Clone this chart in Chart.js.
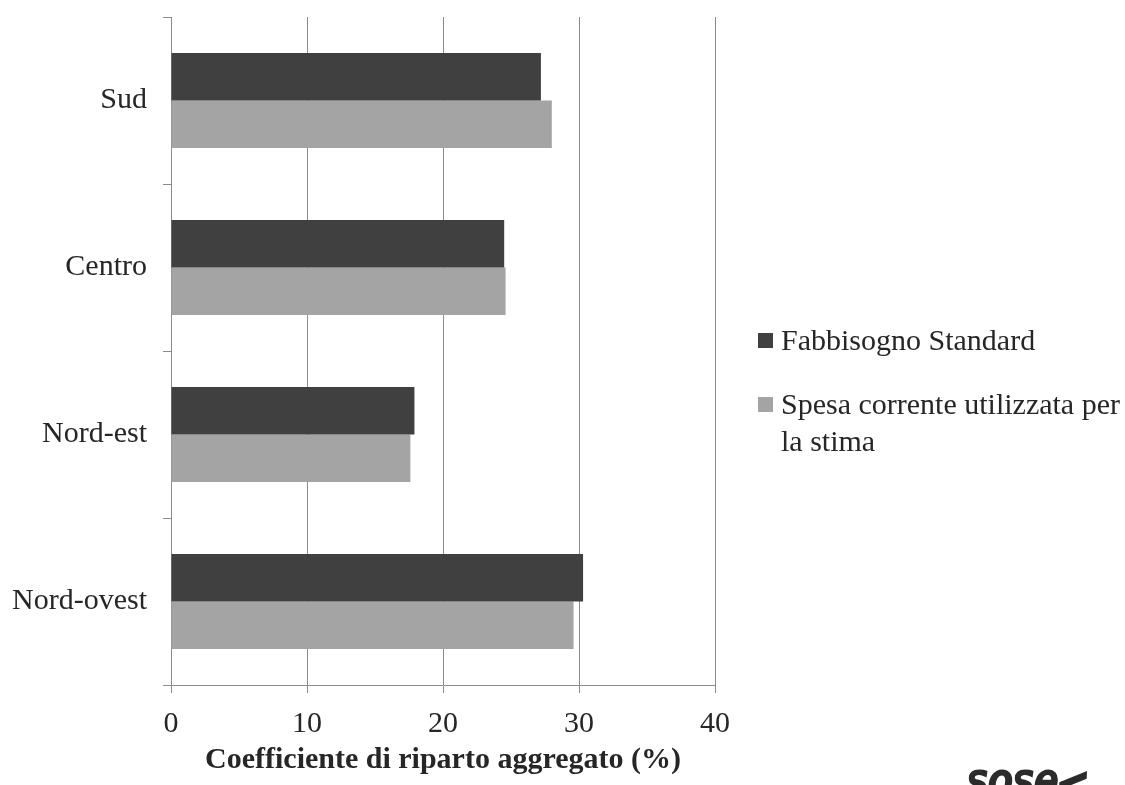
<!DOCTYPE html>
<html>
<head>
<meta charset="utf-8">
<script src="https://cdn.jsdelivr.net/npm/chart.js@4.4.1/dist/chart.umd.min.js"></script>
<style>
  html, body { margin: 0; padding: 0; background: #fff; }
  #wrap { position: relative; width: 1125px; height: 785px; overflow: hidden; }
  #legend { position: absolute; left: 758px; top: 321px; font-family: "Liberation Serif", "Times New Roman", serif; font-size: 30px; color: #262626; }
  .item { position: relative; padding-left: 23px; line-height: 37px; margin-bottom: 27px; width: 345px; }
  .box { position: absolute; left: 0; top: 12px; width: 15px; height: 15px; }
  #logo { position: absolute; left: 966px; top: 751px; font-family: "DejaVu Sans", sans-serif; font-style: italic; font-weight: bold; font-size: 48px; color: #2b2b2b; letter-spacing: -2px; transform: scaleX(0.8); transform-origin: left top; }
  #arrow { position: absolute; left: 1061px; top: 776px; width: 24px; height: 9px; background: #2b2b2b; transform: skewX(-30deg) rotate(-28deg); }
</style>
</head>
<body>
<div id="wrap">
  <canvas id="chart" width="1125" height="785"></canvas>
  <div id="legend"></div>
  <div id="logo">sose</div>
  <div id="arrow"></div>
</div>
<script>
const categories = ['Sud', 'Centro', 'Nord-est', 'Nord-ovest'];
const seriesNames = ['Fabbisogno Standard', 'Spesa corrente utilizzata per la stima'];
const fabbisogno = [27.2, 24.5, 17.9, 30.3];
const spesa = [28.0, 24.6, 17.6, 29.6];
const xTicks = [0, 10, 20, 30, 40];
const colors = ['#404040', '#a4a4a4'];

const serif = '"Liberation Serif", "Times New Roman", serif';
const textColor = '#262626';
const lineColor = '#8c8c8c';

const chart = new Chart(document.getElementById('chart'), {
    type: 'bar',
    data: {
        labels: categories,
        datasets: [
            { label: seriesNames[0], data: fabbisogno, backgroundColor: colors[0] },
            { label: seriesNames[1], data: spesa, backgroundColor: colors[1] }
        ]
    },
    options: {
        indexAxis: 'y',
        responsive: false,
        animation: false,
        layout: { padding: { top: 17, right: 410, bottom: 0, left: 0 } },
        datasets: { bar: { barPercentage: 1, categoryPercentage: 0.57 } },
        plugins: { legend: { display: false }, tooltip: { enabled: false } },
        scales: {
            x: {
                min: 0,
                max: 40,
                afterBuildTicks: (scale) => { scale.ticks = xTicks.map(v => ({ value: v })); },
                afterFit: (scale) => { scale.height = 100; },
                ticks: { color: textColor, font: { family: serif, size: 30 }, padding: 13 },
                grid: { color: lineColor, lineWidth: 1, tickLength: 8 },
                border: { color: lineColor, width: 1 },
                title: {
                    display: true,
                    text: 'Coefficiente di riparto aggregato (%)',
                    color: textColor,
                    font: { family: serif, size: 30, weight: 'bold' },
                    padding: { top: 0, bottom: 7 }
                }
            },
            y: {
                afterFit: (scale) => {
                    scale.width = 171;
                    scale.paddingTop = 0;
                    scale.paddingBottom = 0;
                },
                ticks: { color: textColor, font: { family: serif, size: 30 }, padding: 16 },
                grid: { drawOnChartArea: false, color: lineColor, tickLength: 8, offset: true },
                border: { color: lineColor, width: 1 }
            }
        }
    }
});

// legend built from the datasets
const legend = document.getElementById('legend');
chart.data.datasets.forEach(ds => {
    const item = document.createElement('div');
    item.className = 'item';
    item.innerHTML = `<span class="box" style="background:${ds.backgroundColor}"></span>${ds.label}`;
    legend.appendChild(item);
});
</script>
</body>
</html>
